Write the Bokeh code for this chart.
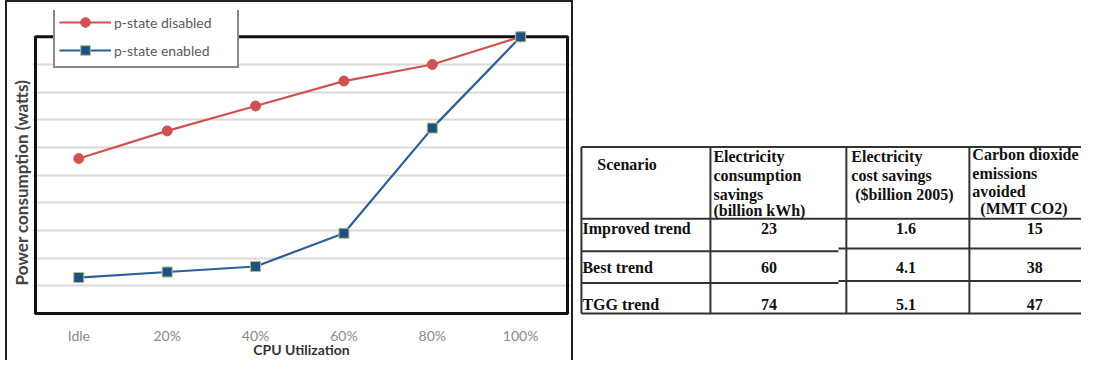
from bokeh.plotting import figure
from bokeh.models import Range1d, FixedTicker, BoxAnnotation, Legend, LegendItem, Spacer
from bokeh.layouts import row, column
from bokeh.embed import file_html
from bokeh.resources import INLINE
from bokeh.core.properties import value

# ---------------- data ----------------
categories = ["Idle", "20%", "40%", "60%", "80%", "100%"]
p_state_disabled = [5.6, 6.6, 7.5, 8.4, 9.0, 10.0]
p_state_enabled = [1.3, 1.5, 1.7, 2.9, 6.7, 10.0]

scenarios = ["Improved trend", "Best trend", "TGG trend"]
kwh_savings = [23, 60, 74]
cost_savings = [1.6, 4.1, 5.1]
co2_avoided = [15, 38, 47]

header_scenario = ["Scenario"]
header_kwh = ["Electricity", "consumption", "savings", "(billion kWh)"]
header_cost = ["Electricity", "cost savings", "($billion 2005)"]
header_co2 = ["Carbon dioxide", "emissions", "avoided", "(MMT CO2)"]

# ---------------- chart ----------------
FONT = "Lato"
xs = list(range(len(categories)))

p = figure(width=564, height=358,
           x_range=Range1d(-0.524, 5.564), y_range=Range1d(-0.108, 10.951),
           output_backend="svg", toolbar_location=None,
           min_border_left=25, min_border_right=1, min_border_top=8, min_border_bottom=43,
           outline_line_color=None, background_fill_color="white", border_fill_color="white")

p.xaxis.ticker = FixedTicker(ticks=xs)
p.xaxis.major_label_overrides = {i: c for i, c in zip(xs, categories)}
p.yaxis.ticker = FixedTicker(ticks=list(range(11)))
p.yaxis.major_label_overrides = {i: "" for i in range(11)}
p.yaxis.major_label_text_font_size = "0px"
p.yaxis.major_label_standoff = 0

for ax in (p.xaxis[0], p.yaxis[0]):
    ax.axis_line_color = None
    ax.major_tick_line_color = None
    ax.minor_tick_line_color = None
    ax.major_tick_out = 0
    ax.major_tick_in = 0
    ax.minor_tick_out = 0
    ax.minor_tick_in = 0

p.xaxis.major_label_text_font = FONT
p.xaxis.major_label_text_font_size = "14px"
p.xaxis.major_label_text_color = "#8a8a8a"
p.xaxis.major_label_standoff = 10
p.xaxis.axis_label = "CPU Utilization"
p.xaxis.axis_label_text_font = FONT
p.xaxis.axis_label_text_font_size = "14px"
p.xaxis.axis_label_text_font_style = "bold"
p.xaxis.axis_label_text_color = "#333333"
p.xaxis.axis_label_standoff = -6

# trailing em spaces push the visible label a little lower along the axis
p.yaxis.axis_label = "Power consumption (watts)\u2003\u2003\u2003"
p.yaxis.axis_label_text_font = FONT
p.yaxis.axis_label_text_font_size = "17px"
p.yaxis.axis_label_text_font_style = "bold"
p.yaxis.axis_label_text_color = "#444444"
p.yaxis.axis_label_standoff = 1

p.xgrid.grid_line_color = None
p.ygrid.grid_line_color = "#d9d9d9"
p.ygrid.grid_line_width = 2

frame_box = BoxAnnotation(left=-0.49, right=5.53, bottom=0, top=10,
                          fill_color=None, fill_alpha=0, line_color="#111111",
                          line_alpha=1.0, line_width=3, level="underlay")
p.add_layout(frame_box)

RED = "#cf5250"
BLUE = "#2d5f97"
r1 = p.line(xs, p_state_disabled, line_color=RED, line_width=2.2)
r1m = p.scatter(xs, p_state_disabled, marker="circle", size=10, fill_color=RED, line_color=RED)
r2 = p.line(xs, p_state_enabled, line_color=BLUE, line_width=2.2)
r2m = p.scatter(xs, p_state_enabled, marker="square", size=10, fill_color="#1f4f86",
                line_color="#a8c47a", line_width=1)

legend = Legend(items=[LegendItem(label="p-state disabled", renderers=[r1, r1m]),
                       LegendItem(label="p-state enabled", renderers=[r2, r2m])],
                location=(21, 248), padding=4, spacing=4, glyph_width=52, glyph_height=24,
                label_height=24, label_standoff=3, label_width=119, margin=0,
                border_line_color="#111111", border_line_width=2.5,
                background_fill_color="white", background_fill_alpha=1.0,
                label_text_font=FONT, label_text_font_size="14px", label_text_color="#5a5a5a")
p.add_layout(legend)

# ---------------- table ----------------
t = figure(width=508, height=360, x_range=Range1d(573, 1085), y_range=Range1d(376, 0),
           output_backend="svg", toolbar_location=None, x_axis_type=None, y_axis_type=None,
           min_border_left=0, min_border_right=0, min_border_top=0, min_border_bottom=0,
           outline_line_color=None, background_fill_color="white",
           border_fill_color="white")

LC = "#333333"
# horizontal rules
t.segment(x0=[581, 581, 581, 840, 581, 840, 581], y0=[153, 228, 262, 259, 295, 293, 327],
          x1=[1097, 1097, 840, 1097, 840, 1097, 1097], y1=[153, 228, 262, 259, 295, 293, 327],
          line_color=LC, line_width=2)
# vertical rules
t.segment(x0=[581, 711, 848, 972], y0=[153] * 4, x1=[581, 711, 848, 972], y1=[327] * 4,
          line_color=LC, line_width=2)

SERIF = value("Liberation Serif")
tk = dict(text_font=SERIF, text_font_style="bold", text_font_size="16px",
          text_baseline="middle", text_color="#111111")

t.text(x=[597], y=[171], text=header_scenario, text_align="left", **tk)
t.text(x=[714] * 4, y=[163, 183, 203, 219], text=header_kwh, text_align="left", **tk)
t.text(x=[853, 853, 857], y=[163, 183, 203], text=header_cost, text_align="left", **tk)
t.text(x=[975, 975, 975, 983], y=[161, 181, 200, 217], text=header_co2, text_align="left", **tk)

row_y = [238, 279, 318]
t.text(x=[582] * 3, y=row_y, text=scenarios, text_align="left", **tk)
t.text(x=[770] * 3, y=row_y, text=[str(v) for v in kwh_savings], text_align="center", **tk)
t.text(x=[908] * 3, y=row_y, text=[f"{v:.1f}" for v in cost_savings], text_align="center", **tk)
t.text(x=[1038] * 3, y=row_y, text=[str(v) for v in co2_avoided], text_align="center", **tk)

BG = {"background-color": "#222222"}
left_panel = column(Spacer(width=564, height=2, styles=BG), p, spacing=0)
layout = row(Spacer(width=5, height=360), Spacer(width=2, height=360, styles=BG), left_panel,
             Spacer(width=2, height=360, styles=BG), t, spacing=0)
open("out.html", "w").write(file_html(layout, INLINE))
